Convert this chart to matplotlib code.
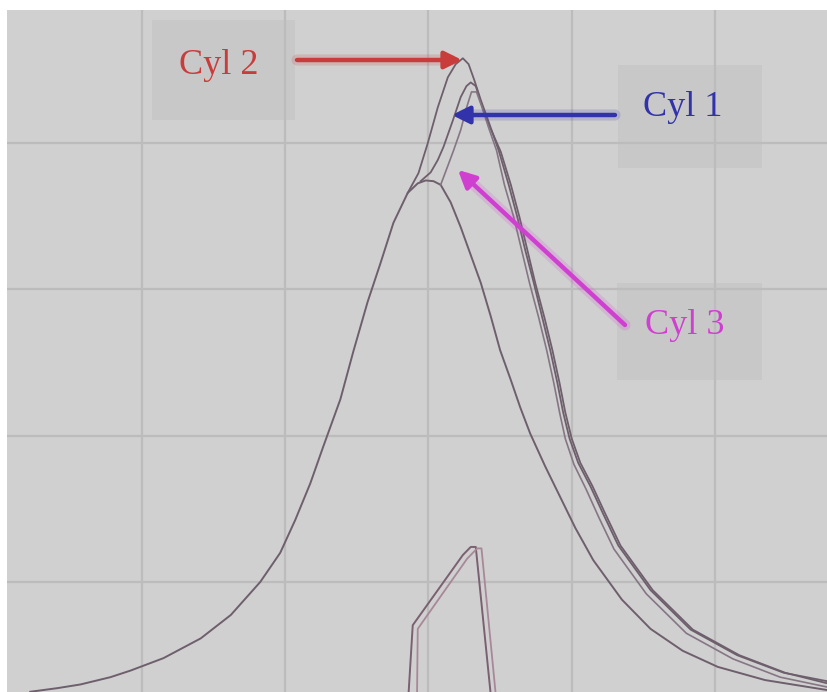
import matplotlib.pyplot as plt
from matplotlib.patches import Rectangle

# crank angle (deg) and cylinder pressure (bar)
motored_deg = [-55.6, -51.8, -48.6, -44.4, -41.6, -37.0, -31.8, -27.6, -23.5, -20.7,
               -18.6, -16.5, -14.7, -12.3, -10.5, -8.5, -6.7, -4.9, -2.9, -1.5,
               -0.4, 0.7, 1.7, 3.1, 4.5, 5.9, 7.3, 8.7, 10.0, 11.5, 12.8, 14.2,
               16.3, 18.4, 20.5, 23.0, 27.0, 31.0, 35.5, 40.4, 47.0, 55.9]
motored_bar = [5.0, 5.5, 6.0, 7.0, 7.9, 9.6, 12.3, 15.5, 20.0, 24.0,
               28.5, 33.5, 38.5, 45.0, 51.5, 58.3, 63.6, 69.1, 73.2, 74.5,
               74.9, 74.8, 74.3, 71.9, 68.5, 64.7, 60.9, 56.3, 51.7, 47.6, 43.9, 40.3,
               35.8, 31.6, 27.4, 23.0, 17.6, 13.6, 10.6, 8.4, 6.6, 5.2]

cyl2_deg = [-2.9, -1.4, -0.1, 1.3, 2.7, 3.8, 4.8, 5.6, 6.4, 7.3, 8.4, 9.8, 11.2,
            12.4, 13.5, 14.7, 15.9, 17.0, 18.0, 18.8, 19.7, 20.9, 22.6, 24.4,
            26.5, 31.0, 36.6, 43.1, 49.6, 55.9]
cyl2_bar = [73.2, 75.9, 80.0, 84.9, 89.0, 90.8, 91.6, 90.8, 88.6, 85.9, 82.9, 79.0, 74.3,
            69.9, 65.4, 60.9, 56.1, 51.7, 47.2, 43.2, 39.6, 36.3, 33.1, 29.3,
            25.0, 18.9, 13.5, 10.0, 7.6, 6.4]

cyl1_deg = [-1.1, 0.3, 1.3, 2.1, 3.4, 4.5, 5.3, 5.9, 6.6, 7.3, 8.4, 10.1, 11.5,
            12.7, 13.8, 14.9, 16.2, 17.3, 18.3, 19.1, 20.0, 21.2, 22.9, 24.7,
            26.8, 31.3, 36.9, 43.4, 49.8, 55.9]
cyl1_bar = [74.8, 76.0, 77.7, 79.5, 83.1, 86.3, 87.8, 88.3, 87.8, 85.6, 82.6, 78.8, 74.3,
            69.9, 65.4, 60.9, 56.1, 51.7, 47.2, 43.2, 39.6, 36.3, 33.1, 29.3,
            25.0, 18.9, 13.5, 10.0, 7.6, 6.1]

cyl3_deg = [1.7, 2.7, 3.5, 4.5, 5.3, 6.0, 6.7, 7.4, 8.4, 9.5, 10.6, 11.9, 13.0,
            14.1, 15.4, 16.5, 17.5, 18.3, 19.1, 20.3, 22.0, 23.8, 25.9, 30.4,
            36.0, 42.5, 49.1, 55.9]
cyl3_bar = [74.3, 76.9, 79.0, 81.8, 84.8, 87.0, 87.0, 85.1, 82.1, 79.0, 74.3, 69.9, 65.4,
            60.9, 56.1, 51.7, 47.2, 43.2, 39.6, 36.1, 32.7, 28.8, 24.5, 18.4,
            13.0, 9.5, 7.0, 5.6]

# injector needle trace (double line at the bottom)
lift_a_deg = [-2.8, -2.2, 4.8, 5.9, 6.6, 8.7]
lift_a_val = [4.5, 14.1, 23.7, 24.8, 24.8, 4.5]
lift_b_deg = [-1.6, -1.5, 5.4, 6.8, 7.4, 9.4]
lift_b_val = [4.5, 13.6, 23.2, 24.6, 24.6, 4.5]

W, H = 828, 692
fig = plt.figure(figsize=(W / 100, H / 100), dpi=100, facecolor='white')
ax = fig.add_axes([7 / W, 0, 821 / W, 682 / H])
ax.set_facecolor('#d0d0d0')
ax.set_xlim(-58.85, 55.78)
ax.set_ylim(4.97, 98.2)
ax.set_xticks([-40, -20, 0, 20, 40])
ax.set_yticks([20, 40, 60, 80])
ax.grid(True, color='#bcbcbc', lw=1.6)
ax.tick_params(length=0, labelbottom=False, labelleft=False)
for s in ax.spines.values():
    s.set_visible(False)

trace = '#6e5f6c'
ax.plot(motored_deg, motored_bar, color=trace, lw=1.4, zorder=2)
ax.plot(cyl2_deg, cyl2_bar, color=trace, lw=1.3, zorder=2)
ax.plot(cyl1_deg, cyl1_bar, color=trace, lw=1.3, zorder=2)
ax.plot(cyl3_deg, cyl3_bar, color='#857684', lw=1.2, zorder=2)
ax.plot(lift_a_deg, lift_a_val, color='#7a6070', lw=1.4, zorder=2)
ax.plot(lift_b_deg, lift_b_val, color='#a88898', lw=1.3, zorder=2)

# label boxes, in image pixels (x, y from top, w, h)
boxes = [(152, 20, 143, 100), (618, 65, 144, 103), (617, 283, 145, 97)]
for bx, by, bw, bh in boxes:
    ax.add_patch(Rectangle((bx / W, 1 - (by + bh) / H), bw / W, bh / H,
                           transform=fig.transFigure, facecolor='#c8c8c8',
                           edgecolor='none', zorder=1.5))

labels = [('Cyl 2', (219, 66), '#c83c3c', (297, 60), (462, 60)),
          ('Cyl 1', (683, 108), '#3232aa', (615, 115), (452, 115)),
          ('Cyl 3', (685, 325), '#d040d0', (625, 325), (458, 170))]
for txt, (tx, ty), col, (x0, y0), (x1, y1) in labels:
    ax.annotate(txt, xy=(tx, H - ty), xycoords='figure pixels', ha='center',
                va='center', color=col, fontsize=26, family='Liberation Serif',
                zorder=4)
    # soft halo like the photographed arrows
    ax.annotate('', xy=(x1, H - y1), xytext=(x0, H - y0), xycoords='figure pixels',
                textcoords='figure pixels', zorder=3,
                arrowprops=dict(arrowstyle='-', color=col, lw=8, alpha=0.18,
                                shrinkA=0, shrinkB=8))
    ax.annotate('', xy=(x1, H - y1), xytext=(x0, H - y0), xycoords='figure pixels',
                textcoords='figure pixels', zorder=4,
                arrowprops=dict(arrowstyle='-|>', color=col, lw=3.2,
                                mutation_scale=26, shrinkA=0, shrinkB=0))

fig.savefig('out.png', dpi=100)
